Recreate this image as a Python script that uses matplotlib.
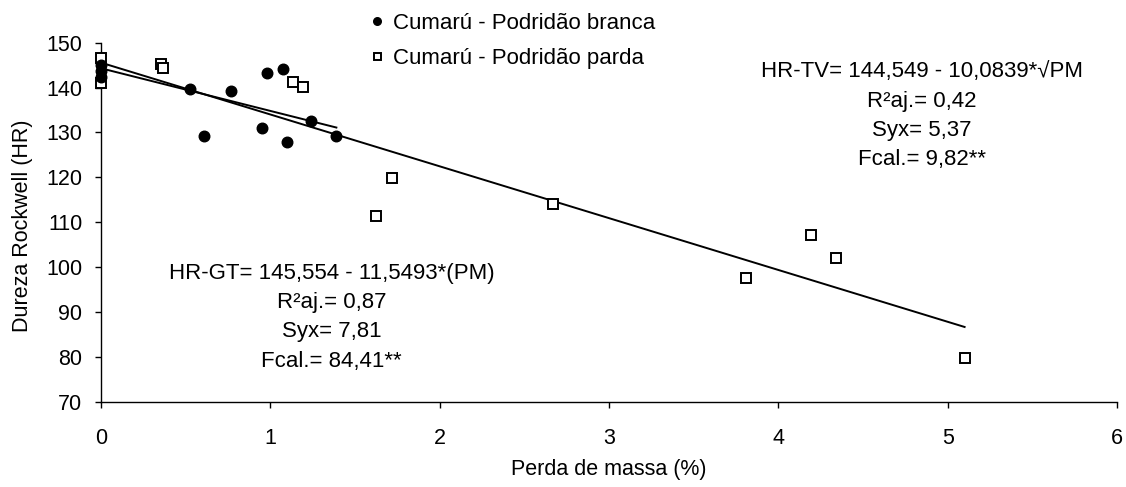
import numpy as np
import matplotlib
matplotlib.use("Agg")
import matplotlib.pyplot as plt

plt.rcParams['font.family'] = ['Liberation Sans', 'DejaVu Sans']

# Cumarú - Podridão branca
pm_branca = [0.0, 0.0, 0.0, 0.525, 0.608, 0.767, 0.948, 0.98, 1.074, 1.096, 1.243, 1.39]
hr_branca = [145.0, 143.6, 142.4, 139.6, 129.3, 139.2, 130.9, 143.2, 144.1, 127.8, 132.6, 129.3]

# Cumarú - Podridão parda
pm_parda = [0.0, 0.0, 0.354, 0.368, 1.135, 1.19, 1.623, 1.72, 2.667, 3.807, 4.19, 4.339, 5.1]
hr_parda = [146.5, 141.0, 145.2, 144.4, 141.2, 140.1, 111.3, 119.9, 114.0, 97.6, 107.2, 102.0, 79.8]

labels = ["Cumarú - Podridão branca", "Cumarú - Podridão parda"]

# trend lines (intercept, slope)
coef_parda = (145.554, -11.5493)
coef_branca = (144.3, -9.5)

txt_tv = ["HR-TV= 144,549 - 10,0839*√PM", "R²aj.= 0,42", "Syx= 5,37", "Fcal.= 9,82**"]
txt_gt = ["HR-GT= 145,554 - 11,5493*(PM)", "R²aj.= 0,87", "Syx= 7,81", "Fcal.= 84,41**"]

W, H = 1126, 487
fig = plt.figure(figsize=(W / 100, H / 100), dpi=100)
ax = fig.add_axes([101 / W, 1 - 401.7 / H, 1016 / W, (401.7 - 42.7) / H])

# lines
xb = np.array([min(pm_branca), max(pm_branca)])
xp = np.array([min(pm_parda), max(pm_parda)])
ax.plot(xb, coef_branca[0] + coef_branca[1] * xb, color='black', lw=1.4, zorder=2)
ax.plot(xp, coef_parda[0] + coef_parda[1] * xp, color='black', lw=1.4, zorder=2)

ax.plot(pm_branca, hr_branca, 'o', ms=7.6, color='black', zorder=4,
        clip_on=False, label=labels[0])
ax.plot(pm_parda, hr_parda, 's', ms=7.0, mfc='white', mec='black', mew=1.4,
        zorder=3, clip_on=False, label=labels[1])

ax.set_xlim(0, 6)
ax.set_ylim(70, 150)
ax.set_xticks(range(0, 7))
ax.set_yticks(range(70, 151, 10))
for s in ['top', 'right']:
    ax.spines[s].set_visible(False)
for s in ['left', 'bottom']:
    ax.spines[s].set_linewidth(1.0)
ax.tick_params(axis='x', direction='out', length=4, width=1, pad=15, labelsize=15.5)
ax.tick_params(axis='y', direction='out', length=4, width=1, pad=9.5, labelsize=15.5)

ax.set_xlabel("Perda de massa (%)", fontsize=15.5)
ax.set_ylabel("Dureza Rockwell (HR)", fontsize=15.5)
ax.xaxis.set_label_coords(0.5, -0.16)
ax.yaxis.set_label_coords(-0.067, 0.49)

fs = 16
em = fs * 100 / 72
def block(lines, xc, ys):
    for t, y in zip(lines, ys):
        fig.text(xc / W, 1 - (y + 0.358 * em) / H, t, fontsize=fs,
                 ha='center', va='baseline')

block(txt_tv, 922, [69.3, 99.3, 128.3, 157.3])
block(txt_gt, 331.7, [270.7, 300, 329.5, 359])

fig.legend(loc='upper left', bbox_to_anchor=(370.3 / W, 1 - 13 / H),
           frameon=False, fontsize=fs, handlelength=0.6, handletextpad=0.42,
           labelspacing=0.64, borderpad=0, borderaxespad=0, markerscale=0.72)

fig.savefig("out.png", dpi=100)
